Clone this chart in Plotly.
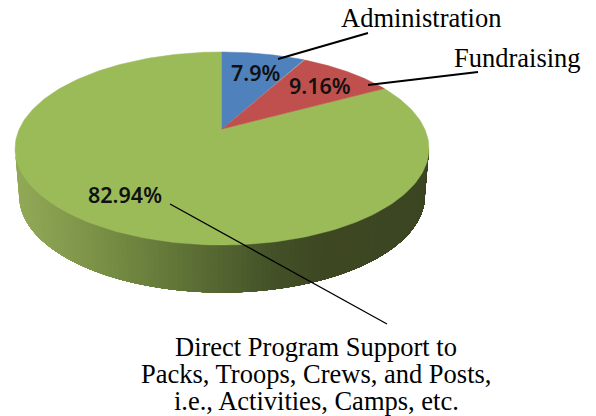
import numpy as np
import plotly.graph_objects as go

# --- data ---
categories = ["Administration", "Fundraising", "Direct Program Support"]
direct_lines = ["Direct Program Support to", "Packs, Troops, Crews, and Posts,", "i.e., Activities, Camps, etc."]
values = [7.9, 9.16, 82.94]
value_labels = ["7.9%", "9.16%", "82.94%"]
colors = ["#4f81bd", "#c0504d", "#9bbb59"]

# --- view geometry (pixel space of the 596x416 page) ---
W, H = 596, 416
APEX_X, APEX_Y = 222.0, 129.0
R, TILT, PERSP = 202.7, 92.6, 0.202
DEPTH = 47.5


def project(phi):
    """Clockwise-from-top pie angle to page position, in perspective."""
    u, v = np.sin(phi), np.cos(phi)
    d = 1 + PERSP * v
    return APEX_X + R * u / d, APEX_Y - TILT * v / d


fig = go.Figure()

# side wall: overlapping strips running from light (left) to dark (right)
stops_x = [15, 80, 140, 200, 270, 320, 429]
stops_rgb = np.array([[146, 170, 88], [128, 150, 74], [108, 130, 62], [90, 108, 52],
                      [68, 82, 40], [62, 72, 35], [60, 70, 34]])
CX, CY = APEX_X, 148.5
RX, RY = 207.0, 96.5
BOTTOM_SCALE = 0.98
N = 130
ts = np.linspace(np.pi, 2 * np.pi, N + 1)
for a in ts[:-1]:
    tt = np.linspace(a, 2 * np.pi, 60)
    top_x = CX + RX * np.cos(tt)
    top_y = CY - RY * np.sin(tt)
    bot_x = CX + RX * BOTTOM_SCALE * np.cos(tt)
    bot_y = CY + DEPTH - RY * np.sin(tt)
    mid = top_x[0]
    rgb = [int(np.interp(mid, stops_x, stops_rgb[:, k])) for k in range(3)]
    col = f"rgb({rgb[0]},{rgb[1]},{rgb[2]})"
    fig.add_trace(go.Scatter(
        x=np.r_[top_x, bot_x[::-1]], y=np.r_[top_y, bot_y[::-1]],
        mode="none", fill="toself", fillcolor=col,
        hoverinfo="skip", showlegend=False))

# top face wedges from the values
edges = np.r_[0, np.cumsum(values)] / np.sum(values) * 2 * np.pi
for i in [2, 0, 1]:
    phi = np.linspace(edges[i], edges[i + 1], 240)
    px, py = project(phi)
    fig.add_trace(go.Scatter(
        x=np.r_[APEX_X, px, APEX_X], y=np.r_[APEX_Y, py, APEX_Y],
        mode="lines", fill="toself", fillcolor=colors[i],
        line=dict(color=colors[i], width=0.5),
        name=categories[i], hoverinfo="name", showlegend=False))

# leader lines
leaders = [((278, 59), (368, 33), 2.0), ((368, 85), (478, 72), 2.0), ((170, 204), (387, 324), 1.3)]
for (x0, y0), (x1, y1), w in leaders:
    fig.add_shape(type="line", x0=x0, y0=y0, x1=x1, y1=y1, xref="x", yref="y",
                  line=dict(color="black", width=w), layer="above")

serif = dict(family="Liberation Serif", size=26.5, color="black")
for txt, x, y in [(categories[0], 421, 18), (categories[1], 517, 58),
                  (direct_lines[0], 316, 347), (direct_lines[1], 316, 374), (direct_lines[2], 316, 401)]:
    fig.add_annotation(x=x, y=y, text=txt, showarrow=False, font=serif, align="center",
                       xanchor="center", yanchor="middle")

pct = dict(family="Noto Sans", size=21.5, color="#111111", weight=600)
for txt, x, y in zip(value_labels, [256, 320, 125], [72, 85, 194]):
    fig.add_annotation(x=x, y=y, text=txt, showarrow=False, font=pct,
                       xanchor="center", yanchor="middle")

fig.update_layout(
    width=W, height=H, margin=dict(l=0, r=0, t=0, b=0),
    paper_bgcolor="white", plot_bgcolor="white",
    xaxis=dict(range=[0, W], visible=False, fixedrange=True),
    yaxis=dict(range=[H, 0], visible=False, fixedrange=True),
)
fig.write_html("out.html", config={"displayModeBar": False},
               post_script="document.body.style.margin='0';document.documentElement.style.overflow='hidden';")
